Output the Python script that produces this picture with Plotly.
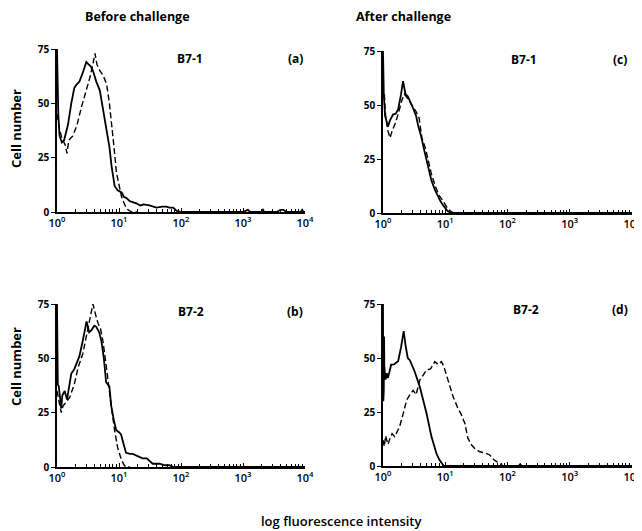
import plotly.graph_objects as go

# panel (a) B7-1 before challenge
a_solid_x = [1.0, 1.02, 1.05, 1.1, 1.2, 1.3, 1.5, 1.7, 1.9, 2.05, 2.3, 2.6, 2.97, 3.2, 3.5, 3.8, 4.3, 4.9, 5.5,
             6.3, 7.0, 7.6, 8.5, 9.5, 11, 12, 13, 15, 19, 22, 25, 31, 40, 50, 58, 65, 75, 85, 95, 100, 200, 500,
             1000, 1200, 1300, 2000, 2100, 2200, 3500, 4000, 4500, 5000, 8500, 9000, 9500, 10000]
a_solid_y = [75, 60, 45, 35, 32, 33, 40, 50, 57, 58.5, 60, 64, 69, 68, 67, 65, 60, 56, 48,
             39, 30, 21, 12, 10, 9, 7, 6.5, 5, 4, 3, 3.5, 3, 2, 2.5, 2.5, 2, 2, 0.5, 0, 0, 0, 0,
             0, 1, 0, 0, 1, 0, 0, 1, 1, 0, 0, 1, 0, 0]
a_dash_x = [1.0, 1.1, 1.2, 1.35, 1.45, 1.55, 1.8, 2.1, 2.5, 3.0, 3.4, 3.8, 4.1, 4.4, 4.9, 5.5, 6.3, 7.0, 7.6,
            8.3, 9.1, 10, 11, 12.5, 14, 16, 20]
a_dash_y = [45, 38, 34, 31, 27, 33, 35, 40, 48.6, 56, 62, 68, 73, 68, 65, 63, 59, 50, 41,
            30, 18, 12, 7, 3, 1, 0, 0]

# panel (b) B7-2 before challenge
b_solid_x = [1.0, 1.01, 1.03, 1.07, 1.12, 1.17, 1.22, 1.33, 1.45, 1.6, 1.7, 1.9, 2.1, 2.3, 2.6, 3.0, 3.3, 3.6,
             4.0, 4.3, 4.8, 5.2, 5.7, 6.2, 7.0, 7.5, 8.2, 9.0, 10, 10.8, 12, 13, 15, 16.7, 20, 24, 28, 35, 45,
             55, 65, 75, 100, 10000]
b_solid_y = [75, 50, 38, 37, 30, 27, 33, 35, 31, 40, 43, 45, 48, 51, 58, 67, 62, 63,
             65, 64.5, 62, 58, 50, 39, 37, 28, 22, 17, 16, 15, 10, 6.5, 6, 6, 5, 4, 4, 1.5, 1.5,
             0.8, 0.8, 0, 0, 0]
b_dash_x = [1.0, 1.05, 1.1, 1.17, 1.25, 1.4, 1.6, 1.9, 2.2, 2.6, 3.15, 3.5, 3.8, 4.2, 4.6, 5.0, 5.5, 6.0,
            6.6, 7.5, 8.5, 9.5, 10.8, 12, 13, 15]
b_dash_y = [35, 32, 28, 25, 28, 30, 32, 38, 46, 52, 64.5, 70, 75, 70, 66, 64, 58, 50,
            39.6, 28, 16.9, 9, 3.8, 1, 0, 0]

# panel (c) B7-1 after challenge
c_solid_x = [1.0, 1.03, 1.08, 1.15, 1.2, 1.3, 1.45, 1.6, 1.75, 1.95, 2.1, 2.3, 2.5, 2.9, 3.4, 3.7, 4.1, 4.6,
             5.3, 6.0, 6.8, 7.5, 8.2, 9.0, 9.8, 10.8, 11.8, 14, 100, 10000]
c_solid_y = [75, 55, 45, 42, 40, 43, 45.6, 46, 48, 55, 61, 55, 54, 50, 45, 40, 35.5, 29,
             21.6, 15, 10.8, 8, 6, 4, 2.3, 1, 0.3, 0, 0, 0]
c_dash_x = [1.05, 1.1, 1.2, 1.3, 1.4, 1.6, 1.8, 2.0, 2.2, 2.5, 2.9, 3.4, 3.8, 4.2, 4.8, 5.3, 6.0, 7.0, 8.0,
            9.0, 10, 11, 12.5, 14]
c_dash_y = [55, 45, 38, 34.8, 38, 42, 47, 52, 55, 53, 50, 47, 44, 35, 30, 25, 18, 12, 8,
            6, 4, 2, 0.5, 0]

# panel (d) B7-2 after challenge
d_solid_x = [1.0, 1.01, 1.02, 1.03, 1.04, 1.05, 1.1, 1.15, 1.2, 1.35, 1.5, 1.75, 1.95, 2.15, 2.3, 2.5, 2.7,
             3.2, 3.9, 4.4, 5.0, 6.0, 7.2, 8.0, 8.7, 9.5, 10, 100, 10000]
d_solid_y = [75, 30, 72, 35, 60, 46, 40, 43, 40.7, 46.9, 47, 48.5, 55, 62.4, 56, 50, 49,
             44, 36.7, 31, 24.4, 13.6, 5.9, 3, 1.2, 0, 0, 0, 0]
d_dash_x = [1.0, 1.05, 1.1, 1.2, 1.3, 1.4, 1.54, 1.7, 1.85, 2.1, 2.4, 2.7, 3.05, 3.4, 3.9, 4.4, 5.0, 5.8,
            6.8, 7.7, 8.7, 9.5, 11.1, 12, 13.4, 16, 18, 20.7, 23, 26.5, 30, 36, 44, 52, 60, 67, 75, 86,
            100, 150, 160, 170, 200, 10000]
d_dash_y = [12, 9, 14, 10, 12.8, 15, 13.6, 16, 18.2, 24, 30.5, 33, 35, 33, 39.8, 42, 44.4, 45,
            48.3, 47, 48.3, 46, 39.8, 36, 32, 26.7, 24, 19.7, 13, 9.7, 8, 6.6, 6, 5.1, 3, 2, 1, 0,
            0, 0, 1, 0, 0, 0]

y_ticks = [0, 25, 50, 75]
decades = [1, 10, 100, 1000, 10000]
decade_labels = ["10<sup>0</sup>", "10<sup>1</sup>", "10<sup>2</sup>", "10<sup>3</sup>", "10<sup>4</sup>"]

# the page body has an 8px margin, so the figure sits at (8, 8) in the window
OFF = 8
W, H = 642 - OFF, 531 - OFF
FONT = "Open Sans"

def fx(px):
    return (px - OFF) / W

def fy(py):
    return 1 - (py - OFF) / H

# window pixel boxes of each panel: (left, right, top, bottom)
panels = [
    ("a", a_solid_x, a_solid_y, a_dash_x, a_dash_y, (57, 305, 49, 212)),
    ("b", b_solid_x, b_solid_y, b_dash_x, b_dash_y, (57, 305, 304, 467)),
    ("c", c_solid_x, c_solid_y, c_dash_x, c_dash_y, (383, 632, 51, 213)),
    ("d", d_solid_x, d_solid_y, d_dash_x, d_dash_y, (383, 632, 304, 466)),
]

# minor log ticks between decades
minor_vals = [d * m for d in decades[:-1] for m in range(2, 10)]

fig = go.Figure()
layout = {}
for i, (name, sx, sy, dx, dy, box) in enumerate(panels):
    n = "" if i == 0 else str(i + 1)
    l, r, t, b = box
    fig.add_trace(go.Scatter(x=sx, y=sy, mode="lines", xaxis="x" + n, yaxis="y" + n,
                             line=dict(color="black", width=1.8), showlegend=False))
    fig.add_trace(go.Scatter(x=dx, y=dy, mode="lines", xaxis="x" + n, yaxis="y" + n,
                             line=dict(color="black", width=1.4, dash="6px,3px"), showlegend=False))
    layout["xaxis" + n] = dict(
        type="log", range=[0, 4], domain=[fx(l), fx(r)], anchor="y" + n, automargin=False,
        showline=True, linecolor="black", linewidth=1.6, showgrid=False, zeroline=False,
        tickmode="array", tickvals=decades, ticktext=decade_labels,
        ticks="inside", ticklen=4, tickcolor="black", tickwidth=1,
        minor=dict(tickmode="array", tickvals=minor_vals, ticks="inside", ticklen=3,
                   tickcolor="black", tickwidth=1, showgrid=False),
        tickfont=dict(family=FONT, size=11, color="black", weight=600),
    )
    layout["yaxis" + n] = dict(
        range=[0, 75], domain=[fy(b), fy(t)], anchor="x" + n, automargin=False,
        showline=True, linecolor="black", linewidth=1.6, showgrid=False, zeroline=False,
        tickmode="array", tickvals=y_ticks, ticks="outside", ticklen=4, tickcolor="black",
        tickfont=dict(family=FONT, size=10, color="black", weight="bold"),
    )

ann = []
def label(text, x, y, size=12, weight="bold", angle=0):
    ann.append(dict(text=text, x=fx(x), y=fy(y), xref="paper", yref="paper",
                    xanchor="center", yanchor="middle", showarrow=False, textangle=angle,
                    font=dict(family=FONT, size=size, color="black", weight=weight)))

label("Before challenge", 137, 17, 12.5)
label("After challenge", 403, 17, 12.5)
label("Cell number", 16, 129, 13, angle=-90)
label("Cell number", 16, 367, 13, angle=-90)
label("log fluorescence intensity", 341, 521, 13, weight=600)
label("B7-1", 190, 58)
label("(a)", 295, 58)
label("B7-2", 191, 311)
label("(b)", 295, 311)
label("B7-1", 524, 59)
label("(c)", 620, 59)
label("B7-2", 526, 309)
label("(d)", 620, 309)

fig.update_layout(width=W, height=H, margin=dict(l=0, r=0, t=0, b=0), template="none",
                  plot_bgcolor="white", paper_bgcolor="white", annotations=ann, **layout)

fig.write_html("out.html")
